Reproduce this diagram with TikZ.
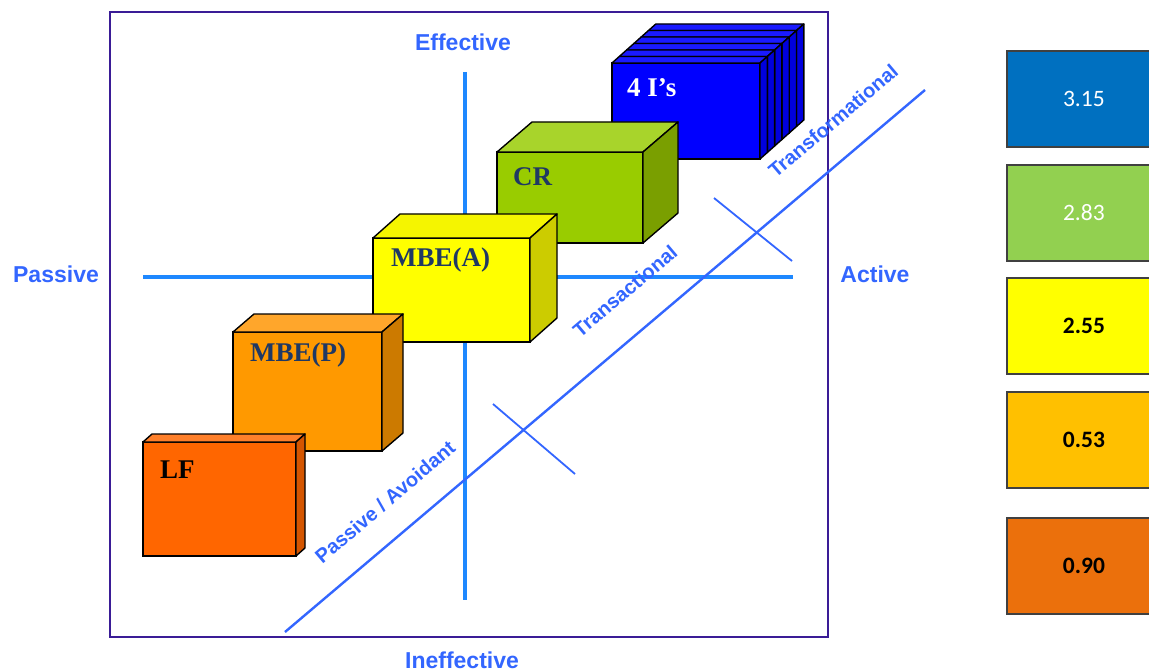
\documentclass[tikz,border=0pt]{standalone}
\usepackage{fontspec}
\setmainfont{Liberation Serif}
\newfontfamily\lsans{Liberation Sans}
\newfontfamily\calib{Carlito}
\definecolor{frameC}{RGB}{58,28,150}
\definecolor{axisC}{RGB}{30,136,255}
\definecolor{diagC}{RGB}{51,102,255}
\definecolor{labC}{RGB}{51,102,255}
\definecolor{navyC}{RGB}{31,56,100}
\definecolor{lfF}{HTML}{FF6600}\definecolor{lfT}{HTML}{FF802B}\definecolor{lfS}{HTML}{D45500}
\definecolor{mpF}{HTML}{FF9900}\definecolor{mpT}{HTML}{FFA62B}\definecolor{mpS}{HTML}{CC7A00}
\definecolor{maF}{HTML}{FFFF00}\definecolor{maT}{HTML}{F5F500}\definecolor{maS}{HTML}{CCCC00}
\definecolor{crF}{HTML}{99CC00}\definecolor{crT}{HTML}{A8D42B}\definecolor{crS}{HTML}{7A9F00}
\definecolor{iaF}{HTML}{0000FF}\definecolor{iaT}{HTML}{1A1AFF}\definecolor{iaS}{HTML}{0000DD}
\definecolor{lg1}{HTML}{0070C0}\definecolor{lg2}{HTML}{92D050}\definecolor{lg3}{HTML}{FFFF00}
\definecolor{lg4}{HTML}{FFC000}\definecolor{lg5}{HTML}{EB700C}
% #1 name, #2 colour prefix, #3 x, #4 y (top-left of front), #5 w, #6 h, #7 dx, #8 dy
\newcommand\cuboid[8]{%
  \node[face, fill=#2F, minimum width=#5pt, minimum height=#6pt, anchor=north west] (#1) at (#3,#4) {};
  \filldraw[edge, fill=#2T] (#1.north west) -- ++(#7,#8) -- ([shift={(#7,#8)}]#1.north east) -- (#1.north east) -- cycle;
  \filldraw[edge, fill=#2S] (#1.north east) -- ++(#7,#8) -- ([shift={(#7,#8)}]#1.south east) -- (#1.south east) -- cycle;
}
\begin{document}
\begin{tikzpicture}[x=1pt,y=-1pt,
  face/.style={draw=black, line width=1.4pt, inner sep=0pt, outer sep=0pt, rectangle},
  edge/.style={draw=black, line width=1.4pt, line join=round},
  boxlab/.style={anchor=base west, inner sep=0pt, font=\fontsize{27}{30}\selectfont\bfseries},
  axlab/.style={text=labC, font=\lsans\fontsize{23}{26}\selectfont\bfseries, inner sep=0pt},
  diaglab/.style={text=labC, font=\lsans\fontsize{20}{23}\selectfont\bfseries, inner sep=0pt, rotate=40.3},
  axisline/.style={axisC, line width=3.2pt},
  diagline/.style={diagC, line width=2.4pt},
  tickline/.style={diagC, line width=1.8pt},
  legend/.style={draw={rgb,255:red,64;green,64;blue,64}, line width=1.8pt, minimum width=154pt, minimum height=96pt, anchor=north west, inner sep=0pt, font=\calib\fontsize{23.5}{26}\selectfont},
  legendb/.style={legend, font=\calib\fontsize{23.5}{26}\selectfont\bfseries}
]
\useasboundingbox (0,0) rectangle (1149,671);
\clip (0,0) rectangle (1149,671);
\fill[white] (0,0) rectangle (1149,671);

% frame
\draw[frameC, line width=2.8pt] (110,12) rectangle (828,637);

% axes
\coordinate (vT) at (465,72); \coordinate (vB) at (465,600);
\coordinate (hL) at (143,277); \coordinate (hR) at (793,277);
\draw[axisline] (vT) -- (vB);
\draw[axisline] (hL) -- (hR);

% diagonal and ticks
\coordinate (d1) at (285,632); \coordinate (d2) at (925,90);
\draw[diagline] (d1) -- (d2);
\coordinate (t1a) at (493,404); \coordinate (t1b) at (575,474);
\coordinate (t2a) at (714,198); \coordinate (t2b) at (792,261);
\draw[tickline] (t1a) -- (t1b);
\draw[tickline] (t2a) -- (t2b);

% axis labels
\node[axlab] (eff) at (463,42) {Effective};
\node[axlab] (ineff) at (462,660) {Ineffective};
\node[axlab] (pas) at (56,274) {Passive};
\node[axlab] (act) at (875,274) {Active};

% diagonal labels
\node[diaglab] (pa) at (385,502) {Passive / Avoidant};
\node[diaglab] (tra) at (625,291) {Transactional};
\node[diaglab] (trf) at (833,121) {Transformational};

% boxes: back to front
\foreach \k in {5,4,3,2,1,0}{
  \pgfmathsetmacro\xx{612+7.3*\k}
  \pgfmathsetmacro\yy{63-6.5*\k}
  \cuboid{ia\k}{ia}{\xx}{\yy}{148}{96}{7.3}{-6.5}
}
\node[boxlab, text=white] (lia) at (627,97) {4 I’s};

\cuboid{cr}{cr}{497}{152}{146}{91}{35}{-30}
\node[boxlab, text=navyC] (lcr) at (513,186) {CR};

\cuboid{ma}{ma}{373}{238}{157}{104}{27}{-24}
\node[boxlab, text=navyC] (lma) at (391,266) {MBE(A)};

\cuboid{mp}{mp}{233}{332}{149}{119}{21}{-18}
\node[boxlab, text=navyC] (lmp) at (250,361) {MBE(P)};

\cuboid{lf}{lf}{143}{442}{153}{114}{9}{-8}
\node[boxlab, text=black] (llf) at (160,478) {LF};

% legend
\node[legend, fill=lg1, text=white] (l1) at (1006,50) {3.15};
\node[legend, fill=lg2, text=white] (l2) at (1006,164) {2.83};
\node[legendb, fill=lg3] (l3) at (1006,277) {2.55};
\node[legendb, fill=lg4] (l4) at (1006,391) {0.53};
\node[legendb, fill=lg5] (l5) at (1006,517) {0.90};
\end{tikzpicture}
\end{document}
